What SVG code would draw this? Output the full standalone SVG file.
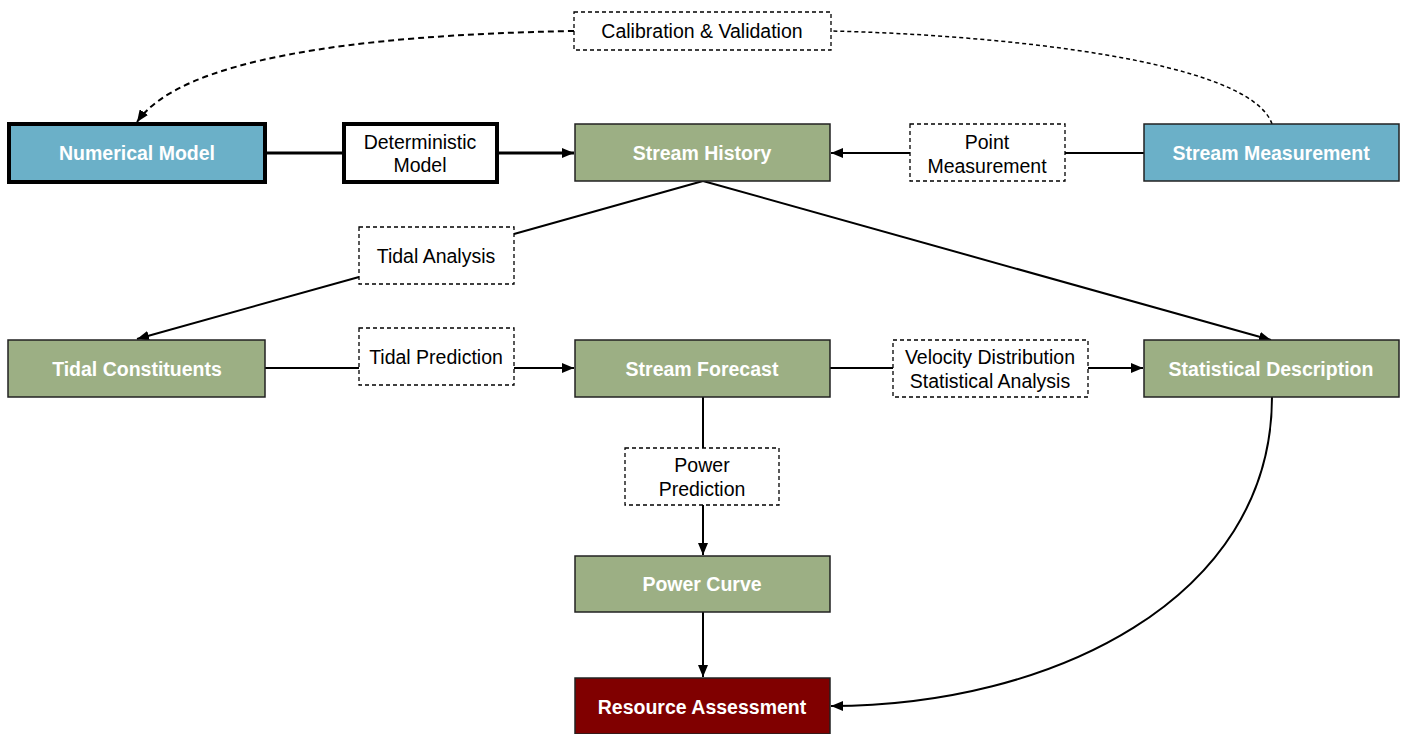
<svg xmlns="http://www.w3.org/2000/svg" width="1405" height="734" viewBox="0 0 1405 734">
<style>
.node{stroke:#222;stroke-width:1.5}
.blue{fill:#6bb0c8}
.green{fill:#9caf84}
.red{fill:#800000}
.nt{font-family:"Liberation Sans",Arial,sans-serif;font-size:19.5px;font-weight:bold;fill:#fff;text-anchor:middle;dominant-baseline:central}
.lbl{fill:#fff;stroke:#000;stroke-width:1.3;stroke-dasharray:4 3}
.lt{font-family:"Liberation Sans",Arial,sans-serif;font-size:19.5px;fill:#000;text-anchor:middle;dominant-baseline:central}
.c{fill:none;stroke:#000;stroke-width:2}
</style>
<defs>
<marker id="ah" viewBox="0 0 12 10" refX="12" refY="5" markerWidth="12" markerHeight="10" orient="auto" markerUnits="userSpaceOnUse">
<path d="M0,0 L12,5 L0,10 z" fill="#000"/>
</marker>
</defs>
<rect width="1405" height="734" fill="#fff"/>
<g id="connectors">
<path class="c" d="M1272,124 C1250,60 1000,35 831,31" stroke-dasharray="4 3" style="stroke-width:1.5"/>
<path class="c" d="M574,31 C350,35 180,60 137,122" stroke-dasharray="6 4" marker-end="url(#ah)"/>
<path class="c" d="M266,153 H343" style="stroke-width:3"/>
<path class="c" d="M498,153 H574" style="stroke-width:3" marker-end="url(#ah)"/>
<path class="c" d="M1144,153 H1065"/>
<path class="c" d="M910,153 H831" marker-end="url(#ah)"/>
<path class="c" d="M703,181 L514,234"/>
<path class="c" d="M359,277 L137,339" marker-end="url(#ah)"/>
<path class="c" d="M703,181 L1271,340" marker-end="url(#ah)"/>
<path class="c" d="M265,368 H359"/>
<path class="c" d="M514,368 H574" marker-end="url(#ah)"/>
<path class="c" d="M830,368 H893"/>
<path class="c" d="M1088,368 H1143" marker-end="url(#ah)"/>
<path class="c" d="M703,397 V448"/>
<path class="c" d="M703,505 V555" marker-end="url(#ah)"/>
<path class="c" d="M703,612 V677" marker-end="url(#ah)"/>
<path class="c" d="M1272,397 C1272,600 1050,706 831,706" marker-end="url(#ah)"/>
</g>
<g id="numerical-model"><rect x="9" y="124" width="256" height="58" class="blue" stroke="#000" stroke-width="4"/><text class="nt" x="137" y="153">Numerical Model</text></g>
<g id="deterministic-model"><rect x="344" y="124" width="153" height="58" fill="#fff" stroke="#000" stroke-width="4"/><text class="lt" x="420" y="142">Deterministic</text><text class="lt" x="420" y="165">Model</text></g>
<g id="stream-history"><rect x="575" y="124" width="255" height="57" class="node green"/><text class="nt" x="702" y="153">Stream History</text></g>
<g id="point-measurement"><rect x="910" y="124" width="155" height="57" class="lbl"/><text class="lt" x="987" y="142">Point</text><text class="lt" x="987" y="166">Measurement</text></g>
<g id="stream-measurement"><rect x="1144" y="124" width="255" height="57" class="node blue"/><text class="nt" x="1271" y="153">Stream Measurement</text></g>
<g id="calibration-validation"><rect x="574" y="12" width="257" height="38" class="lbl"/><text class="lt" x="702" y="31">Calibration &amp; Validation</text></g>
<g id="tidal-analysis"><rect x="359" y="227" width="155" height="57" class="lbl"/><text class="lt" x="436" y="256">Tidal Analysis</text></g>
<g id="tidal-constituents"><rect x="8" y="340" width="257" height="57" class="node green"/><text class="nt" x="137" y="369">Tidal Constituents</text></g>
<g id="tidal-prediction"><rect x="359" y="328" width="155" height="57" class="lbl"/><text class="lt" x="436" y="357">Tidal Prediction</text></g>
<g id="stream-forecast"><rect x="575" y="340" width="255" height="57" class="node green"/><text class="nt" x="702" y="369">Stream Forecast</text></g>
<g id="velocity-distribution"><rect x="893" y="340" width="195" height="57" class="lbl"/><text class="lt" x="990" y="357">Velocity Distribution</text><text class="lt" x="990" y="381">Statistical Analysis</text></g>
<g id="statistical-description"><rect x="1144" y="340" width="255" height="57" class="node green"/><text class="nt" x="1271" y="369">Statistical Description</text></g>
<g id="power-prediction"><rect x="625" y="448" width="154" height="57" class="lbl"/><text class="lt" x="702" y="465">Power</text><text class="lt" x="702" y="489">Prediction</text></g>
<g id="power-curve"><rect x="575" y="556" width="255" height="56" class="node green"/><text class="nt" x="702" y="584">Power Curve</text></g>
<g id="resource-assessment"><rect x="575" y="678" width="255" height="56" class="node red"/><text class="nt" x="702" y="707">Resource Assessment</text></g>
</svg>
